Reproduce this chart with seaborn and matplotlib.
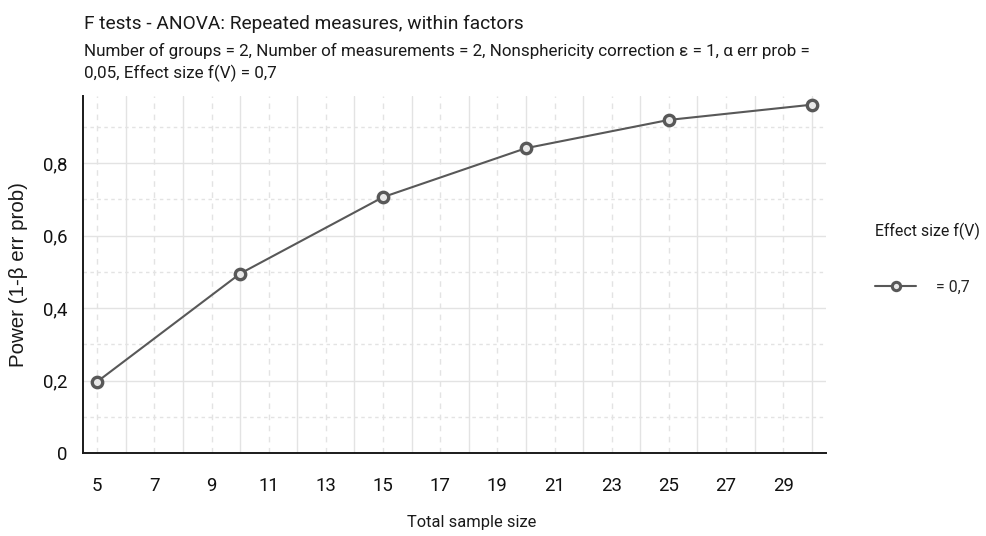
import numpy as np
import pandas as pd
import seaborn as sns
import matplotlib.pyplot as plt
from matplotlib import font_manager
from matplotlib.ticker import FixedLocator, FuncFormatter

# data
sample_size = [5, 10, 15, 20, 25, 30]
power = [0.197, 0.495, 0.706, 0.841, 0.919, 0.961]
effect_label = ["= 0,7"] * len(sample_size)

x_major = list(range(5, 30, 2))
x_minor = list(range(6, 31, 2))
y_major = [0, 0.2, 0.4, 0.6, 0.8]
y_minor = [0.1, 0.3, 0.5, 0.7, 0.9]

df = pd.DataFrame({"Total sample size": sample_size,
                   "Power": power,
                   "Effect size f(V)": effect_label})

sns.set_style("white")
plt.rcParams['font.family'] = ['Roboto', 'DejaVu Sans']

# narrow font for ticks / legend if installed
names = {f.name for f in font_manager.fontManager.ttflist}
if "Liberation Sans Narrow" in names:
    narrow = ["Liberation Sans Narrow", "DejaVu Sans"]
    nscale = 1.0
else:
    narrow = ["Roboto", "DejaVu Sans"]
    nscale = 0.85

fig = plt.figure(figsize=(9.86, 5.36), dpi=100)
ax = fig.add_axes([83/986, 1 - 453/536, (826-83)/986, (453-96)/536])

sns.lineplot(data=df, x="Total sample size", y="Power", hue="Effect size f(V)",
             palette=["#585858"], marker="o", markersize=7.5,
             markerfacecolor="#e8e8e8", markeredgecolor="#585858",
             markeredgewidth=2.4, linewidth=1.5, ax=ax, legend=False, zorder=5)

ax.set_xlim(4.5, 30.5)
ax.set_ylim(0, 0.985)

ax.xaxis.set_major_locator(FixedLocator(x_major))
ax.xaxis.set_minor_locator(FixedLocator(x_minor))
ax.yaxis.set_major_locator(FixedLocator(y_major))
ax.yaxis.set_minor_locator(FixedLocator(y_minor))
ax.yaxis.set_major_formatter(FuncFormatter(
    lambda v, p: "0" if v == 0 else f"{v:.1f}".replace(".", ",")))

# grid: solid at even x / major y, dashed at odd x, dotted at minor y
for v in x_minor:
    ax.axvline(v, color="#e3e3e3", lw=1.0, zorder=0)
for v in x_major:
    ax.axvline(v, color="#e3e3e3", lw=1.0, ls=(0, (4, 4)), zorder=0)
for v in y_major[1:]:
    ax.axhline(v, color="#e3e3e3", lw=1.0, zorder=0)
for v in y_minor:
    ax.axhline(v, color="#e3e3e3", lw=1.0, ls=(0, (2.5, 2.5)), zorder=0)

sns.despine(ax=ax)
for s in ["left", "bottom"]:
    ax.spines[s].set_color("#1a1a1a")
    ax.spines[s].set_linewidth(1.4)

ax.tick_params(axis="both", which="both", direction="out", color="#1a1a1a",
               width=1.4, labelcolor="#111111")
for lab in ax.get_xticklabels() + ax.get_yticklabels():
    lab.set_family(narrow)
    lab.set_fontsize(15.8 * nscale)
ax.tick_params(axis="x", which="major", length=8, pad=9)
ax.tick_params(axis="x", which="minor", length=6.5)
ax.tick_params(axis="y", which="major", length=5, pad=6)
ax.tick_params(axis="y", which="minor", length=3.8)

ax.set_xlabel("Total sample size", fontsize=14 * nscale, color="#1a1a1a",
              family=narrow, va="center")
ax.xaxis.set_label_coords((472 - 83) / 743, -(523 - 453) / 357)
ax.set_ylabel("Power (1-β err prob)", fontsize=14.8, color="#1a1a1a",
              family=["Liberation Sans", "DejaVu Sans"], va="center")
ax.yaxis.set_label_coords(-(83 - 19) / 743, 0.5)

fig.text(84/986, 1 - 28.5/536, "F tests - ANOVA: Repeated measures, within factors",
         fontsize=13.8, va="baseline", ha="left", color="#1a1a1a")
fig.text(84/986, 1 - 56/536,
         "Number of groups = 2, Number of measurements = 2, Nonsphericity correction ε = 1, α err prob =",
         fontsize=12.25, va="baseline", ha="left", color="#1a1a1a")
fig.text(84/986, 1 - 78/536, "0,05, Effect size f(V) = 0,7",
         fontsize=12.25, va="baseline", ha="left", color="#1a1a1a")

# legend
fig.text(875/986, 1 - 231/536, "Effect size f(V)", fontsize=13.5 * nscale,
         family=narrow, va="center", ha="left", color="#1a1a1a")
handle = plt.Line2D([], [], color="#585858", lw=1.5, marker="o", markersize=6,
                    markerfacecolor="#e8e8e8", markeredgecolor="#585858",
                    markeredgewidth=2.2)
fig.legend([handle], ["= 0,7"], loc="center left",
           bbox_to_anchor=(875/986, 1 - 287/536), frameon=False,
           prop={"family": narrow, "size": 13.5 * nscale},
           handlelength=2.6, handletextpad=1.2, borderpad=0, borderaxespad=0)

fig.savefig("out.png", dpi=100)
